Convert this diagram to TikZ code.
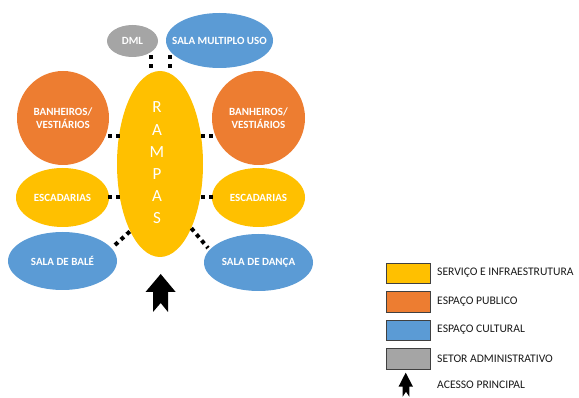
\documentclass[tikz,border=0pt]{standalone}
\usepackage{fontspec}
\setmainfont{Carlito}
\usetikzlibrary{shapes.geometric}
\definecolor{cyel}{HTML}{FFC000}
\definecolor{corg}{HTML}{ED7D31}
\definecolor{cblu}{HTML}{5B9BD5}
\definecolor{cgry}{HTML}{A5A5A5}
\tikzset{
  blob/.style={ellipse, inner sep=0pt, draw=none},
  lbl/.style={text=white, font=\bfseries\fontsize{11}{12.5}\selectfont, align=center},
  conn/.style={line width=4pt, dash pattern=on 4pt off 4pt, black},
  vconn/.style={line width=4pt, dash pattern=on 4pt off 5pt, black},
  legbox/.style={draw=black!75, line width=0.8pt, minimum width=44pt, minimum height=20.5pt, inner sep=0pt},
  legtxt/.style={anchor=west, inner sep=0pt, font=\fontsize{11.6}{13}\selectfont, text=black!90},
}
\begin{document}
\begin{tikzpicture}[x=1pt, y=-1pt]
\useasboundingbox (0,0) rectangle (579,398);

% central ramp
\node[blob, fill=cyel, minimum width=86pt, minimum height=186pt] (rampas) at (160,164) {};
\node[text=white, font=\fontsize{17}{22.2}\selectfont, align=center, inner sep=0pt] (rampastxt) at (157,163) {R\\A\\M\\P\\A\\S};

% top
\node[blob, fill=cgry, minimum width=51pt, minimum height=32pt,
      label={[lbl]center:DML}] (dml) at (132.5,41) {};
\node[blob, fill=cblu, minimum width=107pt, minimum height=55pt,
      label={[lbl]center:SALA MULTIPLO USO}] (smu) at (219.5,40.5) {};

% left column
\node[blob, fill=corg, minimum width=92pt, minimum height=94pt,
      label={[lbl]center:BANHEIROS/\\VESTIÁRIOS}] (banL) at (63,118) {};
\node[blob, fill=cyel, minimum width=93pt, minimum height=59pt,
      label={[lbl]center:ESCADARIAS}] (escL) at (62.5,197.5) {};
\node[blob, fill=cblu, minimum width=109pt, minimum height=58pt,
      label={[lbl]center:SALA DE BALÉ}] (bale) at (62.5,261) {};

% right column
\node[blob, fill=corg, minimum width=93pt, minimum height=94pt,
      label={[lbl]center:BANHEIROS/\\VESTIÁRIOS}] (banR) at (258.5,118) {};
\node[blob, fill=cyel, minimum width=93pt, minimum height=59pt,
      label={[lbl]center:ESCADARIAS}] (escR) at (258.5,197.5) {};
\node[blob, fill=cblu, minimum width=109pt, minimum height=57pt,
      label={[lbl]center:SALA DE DANÇA}] (danca) at (258.5,262.5) {};

% dotted connectors
\draw[vconn] ([xshift=18.5pt,yshift=2pt]dml.south) -- ([xshift=18.5pt,yshift=3pt]dml.south |- rampas.north);
\draw[vconn] ([xshift=-49.5pt,yshift=13pt]smu.south) -- ([xshift=-49.5pt,yshift=3pt]smu.south |- rampas.north);
\draw[conn, shorten <=-1pt, shorten >=-3pt] ([yshift=-18pt]banL.east) -- ([yshift=-18pt]banL.east -| rampas.west);
\draw[conn, shorten <=-1pt, shorten >=-3pt] ([yshift=-18pt]banR.west) -- ([yshift=-18pt]banR.west -| rampas.east);
\draw[conn, shorten <=-1pt, shorten >=-3pt] (escL.east) -- (escL.east -| rampas.west);
\draw[conn, shorten <=-1pt, shorten >=-3pt] (escR.west) -- (escR.west -| rampas.east);
\draw[conn] ([xshift=52.5pt,yshift=16pt]bale.center) -- (rampas.-114);
\draw[conn] (rampas.-64) -- ([xshift=-50.5pt,yshift=14.5pt]danca.center);

% main access arrow
\fill[black] (160.7,274) -- (175.7,292) -- (168,292) -- (168,312) -- (160.7,303)
  -- (153,312) -- (153,292) -- (145.5,292) -- cycle;

% legend
\node[legbox, fill=cyel, anchor=north west] (lg1) at (386,263) {};
\node[legbox, fill=corg, anchor=north west] (lg2) at (386,291.5) {};
\node[legbox, fill=cblu, anchor=north west] (lg3) at (386,320) {};
\node[legbox, fill=cgry, anchor=north west] (lg4) at (386,348.5) {};
\fill[black] (405.7,372.7) -- (413,386.7) -- (409.3,386.7) -- (409.3,396.7) -- (406,391.7)
  -- (402.7,396.7) -- (402.7,386.7) -- (398.5,386.7) -- cycle;

\node[legtxt] (t1) at (437,273) {SERVIÇO E INFRAESTRUTURA};
\node[legtxt] (t2) at (437,301.5) {ESPAÇO PUBLICO};
\node[legtxt] (t3) at (437,330) {ESPAÇO CULTURAL};
\node[legtxt] (t4) at (437,358.5) {SETOR ADMINISTRATIVO};
\node[legtxt] (t5) at (437,385) {ACESSO PRINCIPAL};
\end{tikzpicture}
\end{document}
